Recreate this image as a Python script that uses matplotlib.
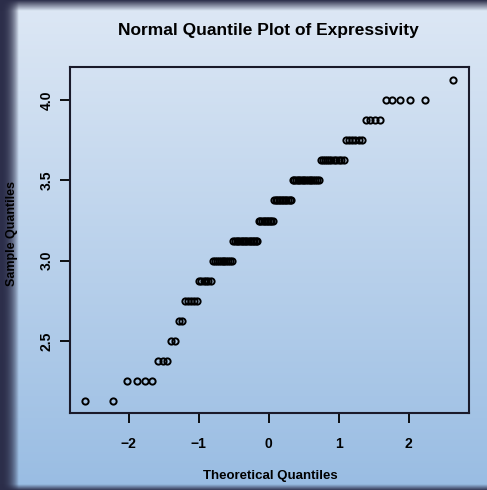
import numpy as np
import matplotlib.pyplot as plt
from statistics import NormalDist

# Рівні вибірки та кількість спостережень на кожному рівні
levels = [2.125, 2.25, 2.375, 2.5, 2.625, 2.75, 2.875, 3.0, 3.125,
          3.25, 3.375, 3.5, 3.625, 3.75, 3.875, 4.0, 4.125]
counts = [2, 4, 3, 2, 2, 5, 6, 11, 16, 10, 12, 16, 11, 6, 4, 5, 1]

x_ticks = [-2, -1, 0, 1, 2]
x_tick_labels = ["\u22122", "\u22121", "0", "1", "2"]
y_ticks = [2.5, 3.0, 3.5, 4.0]
y_tick_labels = ["2.5", "3.0", "3.5", "4.0"]

title = "Normal Quantile Plot of Expressivity"
x_label = "Theoretical Quantiles"
y_label = "Sample Quantiles"

# Вибірка та теоретичні квантилі (як qqnorm у R)
sample = np.sort(np.repeat(levels, counts))
n = len(sample)
a = 3 / 8 if n <= 10 else 0.5
probs = (np.arange(1, n + 1) - a) / (n + 1 - 2 * a)
theo = np.array([NormalDist().inv_cdf(p) for p in probs])

plt.rcParams['font.family'] = ['Liberation Sans', 'DejaVu Sans']

fig = plt.figure(figsize=(4.87, 4.90), dpi=100)

# Градієнтне тло
bg = fig.add_axes([0, 0, 1, 1], zorder=-10)
top_c = np.array([0.87, 0.91, 0.96])
bot_c = np.array([0.60, 0.74, 0.89])
t = np.linspace(0, 1, 256)[:, None]
grad = top_c * (1 - t) + bot_c * t
img = np.repeat(grad[:, None, :], 16, axis=1)
bg.imshow(img, aspect='auto', extent=[0, 1, 0, 1], origin='upper')
# Темні краї рамки
edge = np.linspace(0, 1, 64)
dark = np.array([0.17, 0.18, 0.29])
left = np.zeros((4, 64, 4))
left[..., :3] = dark
left[..., 3] = np.clip(1 - edge ** 2.5, 0, 1)
bg.imshow(left, aspect='auto', extent=[0, 0.038, 0, 1])
topb = np.zeros((32, 4, 4))
topb[..., :3] = dark
topb[..., 3] = np.clip(1 - np.linspace(0, 1, 32), 0, 1)[:, None]
bg.imshow(topb, aspect='auto', extent=[0, 1, 0.978, 1], origin='upper')
botb = np.zeros((16, 4, 4))
botb[..., :3] = dark
botb[..., 3] = np.linspace(0, 0.9, 16)[:, None]
bg.imshow(botb, aspect='auto', extent=[0, 1, 0, 0.012], origin='upper')
bg.set_xlim(0, 1)
bg.set_ylim(0, 1)
bg.axis('off')

# Основний графік
ax = fig.add_axes([70 / 487, 77 / 490, 399 / 487, 346 / 490])
ax.patch.set_alpha(0)
ax.plot(theo, sample, 'o', mfc='none', mec='black', ms=4.5, mew=1.4)

ax.set_xlim(-2.84, 2.86)
ax.set_ylim(2.053, 4.205)
ax.set_xticks(x_ticks)
ax.set_xticklabels(x_tick_labels, fontsize=10, fontweight='bold')
ax.set_yticks(y_ticks)
ax.set_yticklabels(y_tick_labels, fontsize=10, fontweight='bold',
                   rotation=90, va='center')
ax.tick_params(direction='out', length=7, width=1.3)
ax.tick_params(axis='x', pad=10)
ax.tick_params(axis='y', pad=5)
for s in ax.spines.values():
    s.set_linewidth(1.5)
    s.set_color('#1a1a2a')

fig.text(268 / 487, 1 - 30 / 490, title, ha='center', va='center',
         fontsize=12.5, fontweight='bold')
fig.text(270 / 487, 1 - 476 / 490, x_label, ha='center', va='center',
         fontsize=9.5, fontweight='bold')
fig.text(12 / 487, 1 - 233 / 490, y_label, ha='center', va='center',
         fontsize=9, fontweight='bold', rotation=90)

fig.savefig("out.png", dpi=100)
